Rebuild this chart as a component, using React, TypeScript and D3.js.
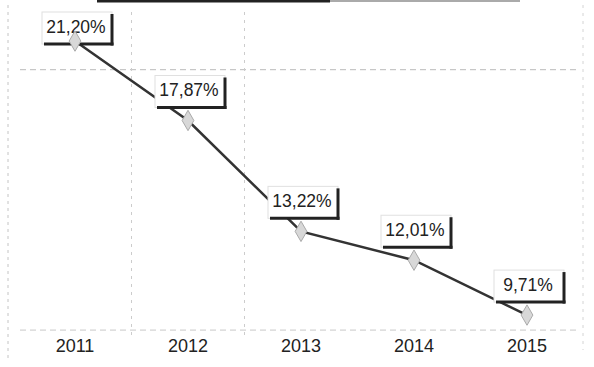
import React from "react";
import * as d3 from "d3";

const years = ["2011", "2012", "2013", "2014", "2015"];
const values = [21.2, 17.87, 13.22, 12.01, 9.71];
const labels = ["21,20%", "17,87%", "13,22%", "12,01%", "9,71%"];
const gridValues = [20];

const W = 594;
const H = 367;

export default function App() {
  const x = d3.scalePoint<string>().domain(years).range([75, 527]);
  const y = d3.scaleLinear().domain([9, 22]).range([332, 22]);
  const step = x.step();
  const line = d3
    .line<number>()
    .x((_, i) => x(years[i]) as number)
    .y((d) => y(d));
  const marker = d3.symbol().type(d3.symbolDiamond).size(120)() as string;
  const boxW = 70;
  const boxH = 32;

  return (
    <svg
      width={W}
      height={H}
      style={{ position: "absolute", left: 0, top: 0, background: "#fff" }}
      fontFamily="Arial, 'Liberation Sans', sans-serif"
    >
      <rect x={0} y={0} width={W} height={H} fill="#fff" />
      {/* top cropped bar */}
      <line x1={97} x2={330} y1={1} y2={1} stroke="#222" strokeWidth={3} />
      <line x1={330} x2={520} y1={1} y2={1} stroke="#aaa" strokeWidth={2} />
      {/* frame dashed */}
      <line x1={8} x2={8} y1={5} y2={360} stroke="#c4c4c4" strokeDasharray="3,4" />
      <line x1={583} x2={583} y1={5} y2={350} stroke="#d4d4d4" strokeDasharray="3,5" />
      {/* gridlines */}
      {gridValues.map((g) => (
        <line key={g} x1={20} x2={580} y1={y(g)} y2={y(g)} stroke="#bbb" strokeDasharray="6,4" strokeWidth={1} />
      ))}
      <line x1={20} x2={580} y1={y(9.08)} y2={y(9.08)} stroke="#c8c8c8" strokeDasharray="6,4" />
      {years.slice(0, 2).map((yr) => (
        <line
          key={yr}
          x1={(x(yr) as number) + step / 2}
          x2={(x(yr) as number) + step / 2}
          y1={12}
          y2={340}
          stroke="#ccc"
          strokeDasharray="3,5"
        />
      ))}
      {/* line */}
      <path d={line(values) as string} fill="none" stroke="#333" strokeWidth={2.5} />
      {/* labels */}
      {values.map((v, i) => {
        const px = x(years[i]) as number;
        const py = y(v);
        const top = Math.max(12, py - 13 - boxH);
        const left = px + 2 - boxW / 2;
        return (
          <g key={years[i]}>
            <rect x={left} y={top} width={boxW} height={boxH} fill="#fff" stroke="#e0e0e0" strokeWidth={1} />
            <line x1={left + 2} x2={left + boxW + 1.5} y1={top + boxH} y2={top + boxH} stroke="#222" strokeWidth={3} />
            <line x1={left + boxW} x2={left + boxW} y1={top + 2} y2={top + boxH + 1.5} stroke="#222" strokeWidth={3} />
            <text
              x={left + boxW / 2 - 1}
              y={top + boxH / 2}
              textAnchor="middle"
              dominantBaseline="middle"
              fontSize={17.5}
              fill="#222"
            >
              {labels[i]}
            </text>
          </g>
        );
      })}
      {/* markers */}
      {values.map((v, i) => (
        <path
          key={years[i]}
          d={marker}
          transform={`translate(${x(years[i])},${y(v)})`}
          fill="#d8d8d8"
          stroke="#aaa"
          strokeWidth={1}
        />
      ))}
      {/* x labels */}
      {years.map((yr) => (
        <text key={yr} x={x(yr) as number} y={352} textAnchor="middle" fontSize={18} fill="#222">
          {yr}
        </text>
      ))}
    </svg>
  );
}
